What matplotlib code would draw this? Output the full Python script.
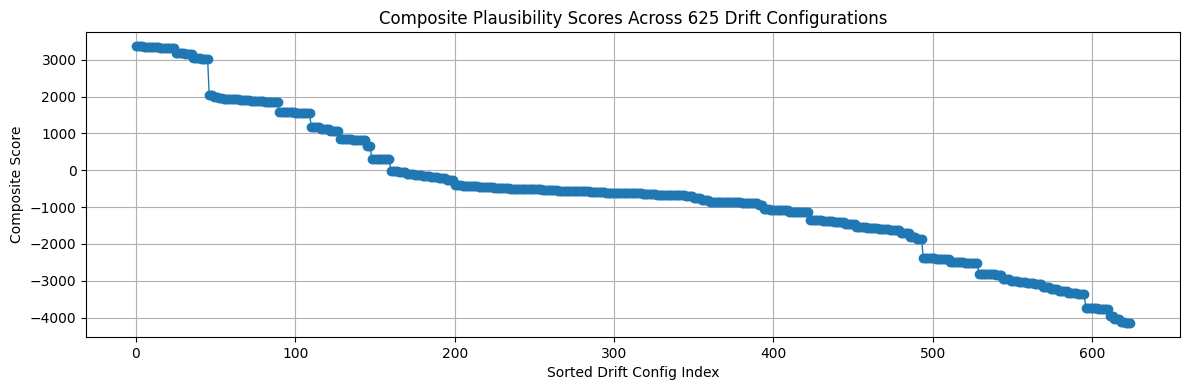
import numpy as np
import matplotlib
matplotlib.use('Agg')
import matplotlib.pyplot as plt

# composite scores, stored as (run length, score level) pairs
run_counts = [5, 5, 5, 5, 5,
              6, 5,
              5, 5,
              3, 3, 3, 3,
              7, 7,
              9, 9,
              10, 10,
              6, 6, 6,
              8, 9,
              3,
              12,
              5, 5, 5, 5, 5, 5, 5, 5,
              5, 10, 10, 10, 10, 10, 10, 10, 10, 10, 10,
              13,
              9, 9, 9,
              5, 5, 5,
              10, 10, 11,
              3, 4,
              12, 13,
              8, 7, 7,
              7,
              7, 7, 7, 7,
              6,
              4, 4,
              8, 9, 9, 9,
              11, 4,
              5, 5, 5, 5, 5,
              5, 5, 6, 6, 5,
              8, 7,
              3, 4,
              3, 4]
run_levels = [3370, 3350, 3340, 3320, 3310,
              3190, 3160,
              3060, 3020,
              2040, 2000, 1970, 1950,
              1935, 1920,
              1870, 1850,
              1580, 1550,
              1170, 1130, 1080,
              850, 820,
              650,
              320,
              -20, -40, -100, -130, -150, -180, -210, -260,
              -390, -430, -460, -480, -500, -520, -540, -560, -575, -590, -605,
              -620,
              -640, -660, -680,
              -710, -760, -810,
              -860, -870, -890,
              -940, -1050,
              -1090, -1120,
              -1350, -1370, -1400,
              -1460,
              -1540, -1560, -1590, -1630,
              -1700,
              -1800, -1860,
              -2370, -2400, -2480, -2520,
              -2810, -2850,
              -2950, -3000, -3040, -3070, -3100,
              -3180, -3230, -3290, -3330, -3350,
              -3730, -3760,
              -3960, -4030,
              -4120, -4150]

scores = np.repeat(run_levels, run_counts)
idx = np.arange(len(scores))

plt.figure(figsize=(11.89, 3.9), dpi=100)
plt.plot(idx, scores, marker='o', linewidth=1)
plt.title('Composite Plausibility Scores Across {} Drift Configurations'.format(len(scores)))
plt.xlabel('Sorted Drift Config Index')
plt.ylabel('Composite Score')
plt.grid(True)
plt.subplots_adjust(left=0.0725, right=0.9925, top=0.917, bottom=0.136)
plt.savefig('out.png', dpi=100)
